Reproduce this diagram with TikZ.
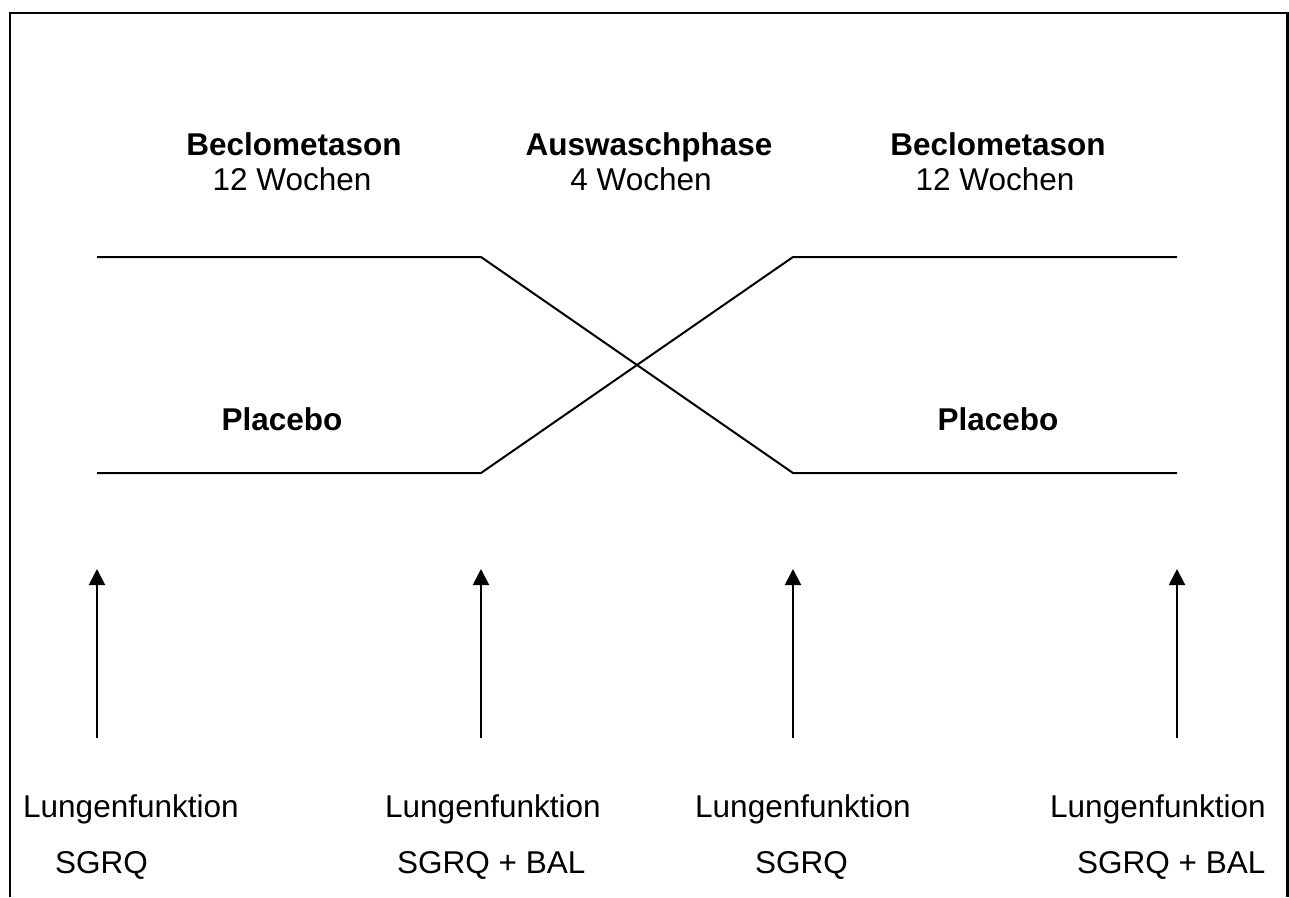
\documentclass[tikz,border=0pt]{standalone}
\usepackage{fontspec}
\setmainfont{Liberation Sans}
\usetikzlibrary{arrows.meta}
\begin{document}
\begin{tikzpicture}[x=1pt,y=-1pt,
  lbl/.style={font=\fontsize{31.5}{36}\selectfont, inner sep=0pt, anchor=base},
  lblw/.style={font=\fontsize{31.5}{36}\selectfont, inner sep=0pt, anchor=base west},
  blbl/.style={font=\fontsize{31.5}{36}\selectfont\bfseries, inner sep=0pt, anchor=base},
  armline/.style={line width=2pt, line join=miter},
  arr/.style={line width=2pt, -{Triangle[width=16pt,length=16pt]}},
  frameline/.style={line width=2.7pt}]
\useasboundingbox (0,0) rectangle (1289,897);
% frame (open at bottom)
\coordinate (f1) at (10,897);
\coordinate (f2) at (10,13);
\coordinate (f3) at (1287.5,13);
\coordinate (f4) at (1287.5,897);
\draw[frameline] (f1) -- (f2) -- (f3) -- (f4);
% headers
\node[blbl] (h1) at (294,155) {Beclometason};
\node[lbl]  (w1) at (292,190) {12 Wochen};
\node[blbl] (h2) at (649,155) {Auswaschphase};
\node[lbl]  (w2) at (641,190) {4 Wochen};
\node[blbl] (h3) at (998,155) {Beclometason};
\node[lbl]  (w3) at (995,190) {12 Wochen};
\node[blbl] (p1) at (282,430) {Placebo};
\node[blbl] (p2) at (998,430) {Placebo};
% crossover lines
\coordinate (a1) at (97,257);
\coordinate (a2) at (481,257);
\coordinate (a3) at (793,473);
\coordinate (a4) at (1177,473);
\coordinate (b1) at (97,473);
\coordinate (b2) at (481,473);
\coordinate (b3) at (793,257);
\coordinate (b4) at (1177,257);
\draw[armline] (a1) -- (a2) -- (a3) -- (a4);
\draw[armline] (b1) -- (b2) -- (b3) -- (b4);
% arrows
\foreach \i/\x in {1/97,2/481,3/793,4/1177}{
  \coordinate (s\i) at (\x,738);
  \coordinate (t\i) at (\x,569);
  \draw[arr] (s\i) -- (t\i);
}
% bottom labels
\node[lblw] (l1) at (23,817) {Lungenfunktion};
\node[lblw] (q1) at (55,873) {SGRQ};
\node[lblw] (l2) at (385,817) {Lungenfunktion};
\node[lblw] (q2) at (397,873) {SGRQ + BAL};
\node[lblw] (l3) at (695,817) {Lungenfunktion};
\node[lblw] (q3) at (755,873) {SGRQ};
\node[lblw] (l4) at (1050,817) {Lungenfunktion};
\node[lblw] (q4) at (1077,873) {SGRQ + BAL};
\end{tikzpicture}
\end{document}
